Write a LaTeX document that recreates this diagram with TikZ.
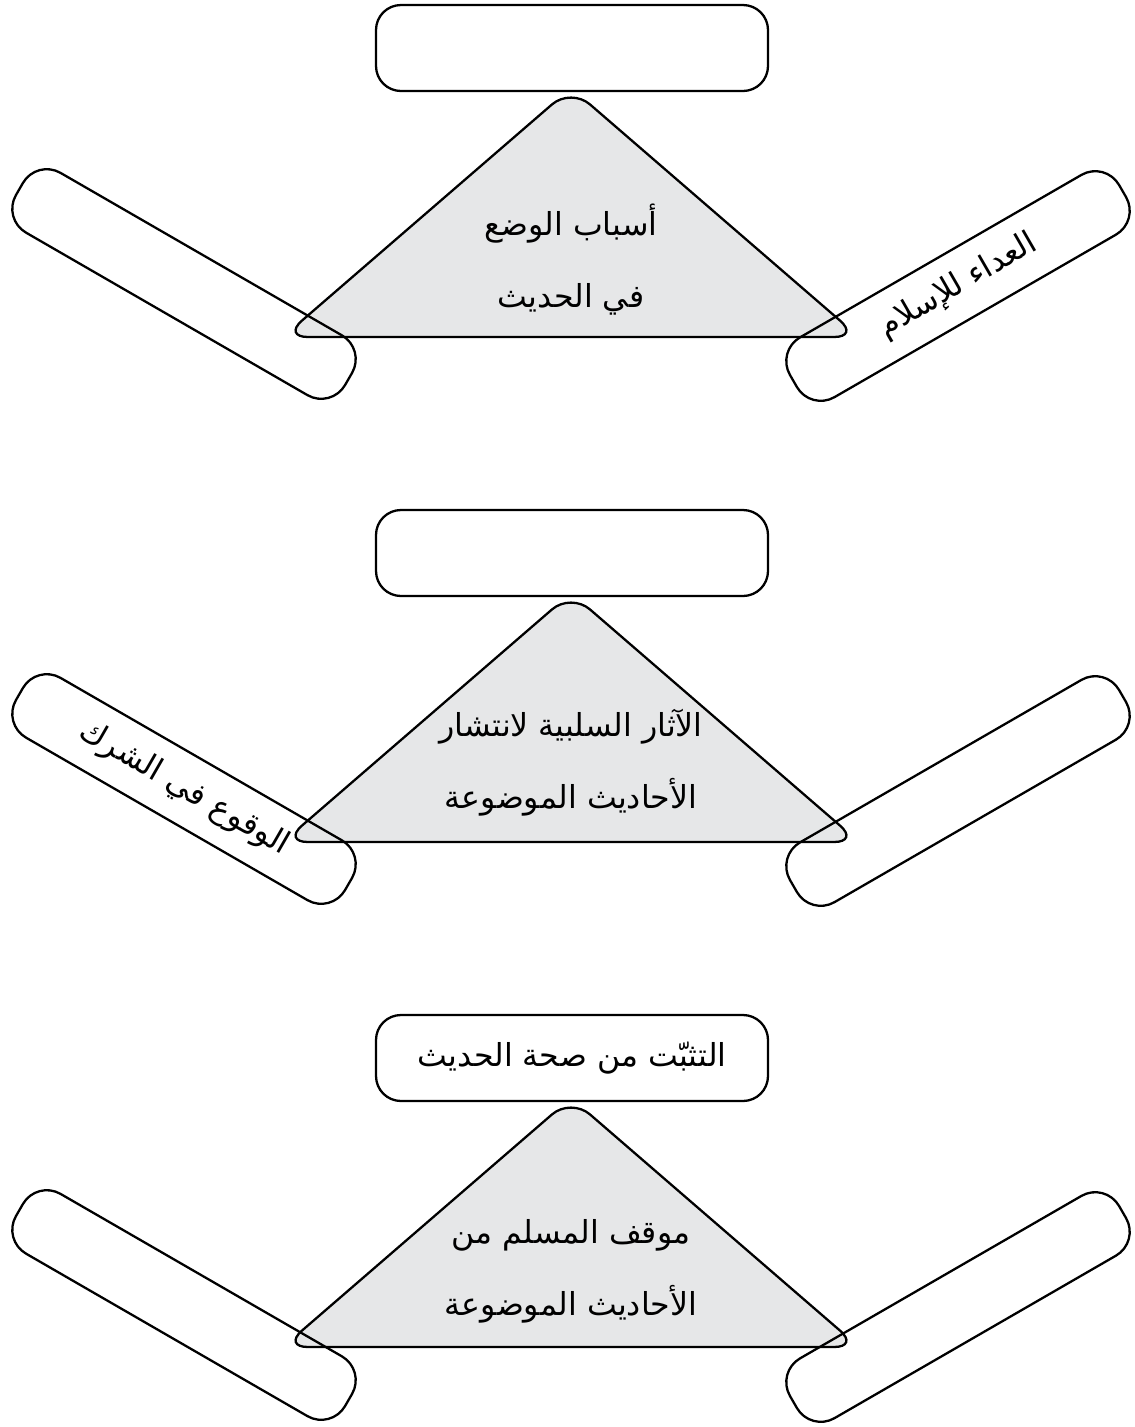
\documentclass[tikz,border=0pt]{standalone}
\usepackage{fontspec}
\newfontfamily\arabicfont[Script=Arabic]{DejaVu Sans}
\TeXXeTstate=1
\definecolor{trigray}{RGB}{230,231,232}
\tikzset{
  headbox/.style={draw, line width=1.3pt, rounded corners=0.5cm, minimum width=7.84cm, minimum height=1.72cm, inner sep=0pt, artext},
  armbox/.style={draw, line width=1.3pt, rounded corners=0.55cm, minimum width=7.6cm, minimum height=1.38cm, inner sep=0pt, artext},
  artext/.style={font=\arabicfont\fontsize{18}{41}\selectfont, align=center},
  tri/.style={draw, line width=1.3pt, fill=trigray, rounded corners=0.5cm},
}
\begin{document}
\begin{tikzpicture}
  \useasboundingbox (0,0) rectangle (22.68,-28.54);
  % causes of fabrication
  \draw (11.44,-0.96) node (head_a) [headbox] {};
  \draw[tri] (11.42,-6.74) -- (5.66,-6.74) -- (11.42,-1.76) -- (17.18,-6.74) -- cycle;
  \draw (11.42,-5.2) node (tri_a) [artext] {\beginR أسباب الوضع\endR\\\beginR في الحديث\endR};
  \draw (3.68,-5.68) node (left_a) [armbox, rotate=-30] {};
  \draw (19.16,-5.72) node (right_a) [armbox, rotate=30] {\beginR العداء للإسلام\endR};

  % negative effects
  \begin{scope}[yshift=-10.1cm]
    \draw (11.44,-0.96) node (head_b) [headbox] {};
    \draw[tri] (11.42,-6.74) -- (5.66,-6.74) -- (11.42,-1.76) -- (17.18,-6.74) -- cycle;
    \draw (11.42,-5.15) node (tri_b) [artext] {\beginR الآثار السلبية لانتشار\endR\\\beginR الأحاديث الموضوعة\endR};
    \draw (3.68,-5.68) node (left_b) [armbox, rotate=-30] {\beginR الوقوع في الشرك\endR};
    \draw (19.16,-5.72) node (right_b) [armbox, rotate=30] {};
  \end{scope}

  % position of the muslim
  \begin{scope}[yshift=-20.2cm]
    \draw (11.44,-0.96) node (head_c) [headbox] {\beginR التثبّت من صحة الحديث\endR};
    \draw[tri] (11.42,-6.74) -- (5.66,-6.74) -- (11.42,-1.76) -- (17.18,-6.74) -- cycle;
    \draw (11.42,-5.22) node (tri_c) [artext] {\beginR موقف المسلم من\endR\\\beginR الأحاديث الموضوعة\endR};
    \draw (3.68,-5.9) node (left_c) [armbox, rotate=-30] {};
    \draw (19.16,-5.94) node (right_c) [armbox, rotate=30] {};
  \end{scope}
\end{tikzpicture}
\end{document}
